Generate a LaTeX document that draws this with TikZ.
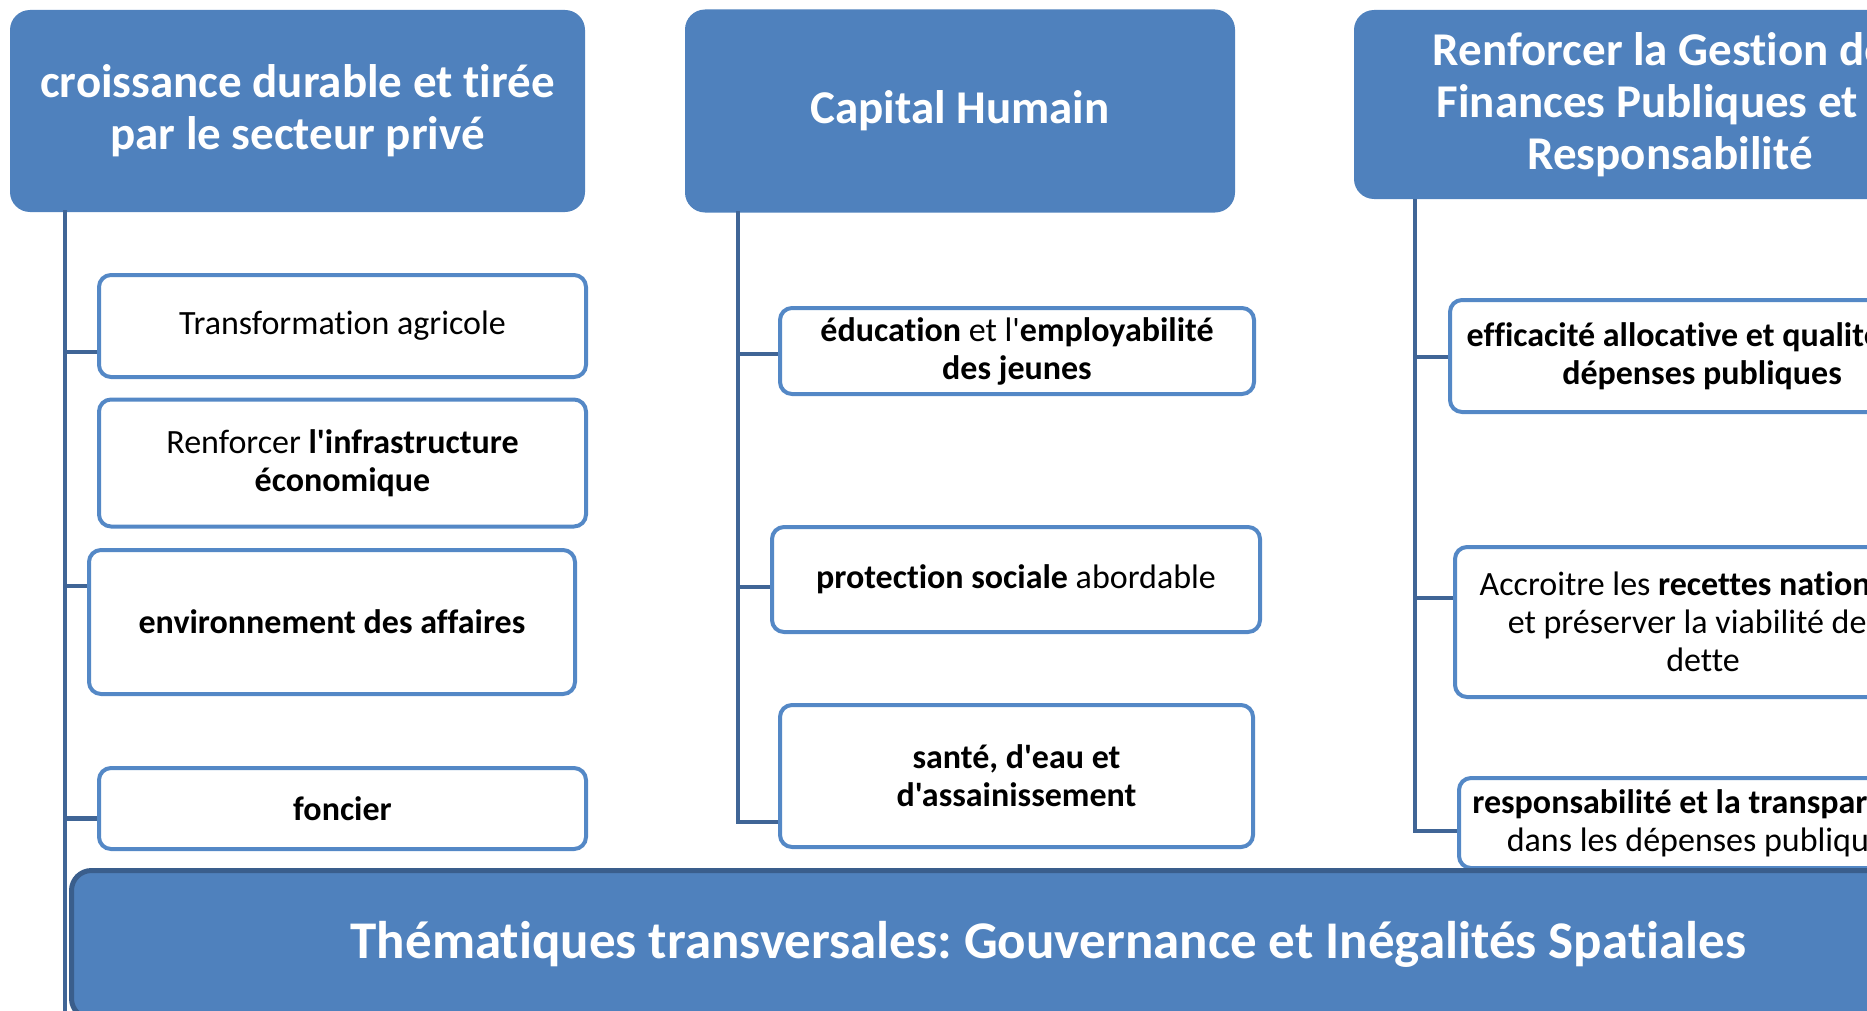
\documentclass[tikz,border=0pt]{standalone}
\usepackage{fontspec}
\setmainfont{Carlito}
\newfontfamily\cali{Carlito}[Ligatures=CommonOff]
\frenchspacing
\definecolor{axeblue}{RGB}{79,129,189}
\definecolor{subblue}{RGB}{84,136,198}
\definecolor{trunkblue}{RGB}{64,101,150}
\definecolor{edgeblue}{RGB}{58,94,140}
\tikzset{
  axe/.style={fill=axeblue,rounded corners=10pt,text=white,align=center,inner sep=0pt,
    font=\cali\bfseries\fontsize{23.5}{26}\selectfont},
  sub/.style={draw=subblue,line width=2pt,fill=white,rounded corners=6pt,align=center,inner sep=0pt,
    font=\cali\fontsize{17}{19}\selectfont},
  band/.style={draw=edgeblue,line width=2.5pt,fill=axeblue,rounded corners=10pt,text=white,inner sep=0pt,
    font=\cali\bfseries\fontsize{26.5}{30}\selectfont},
  branch/.style={draw=trunkblue,line width=2.25pt},
}
\begin{document}
\begin{tikzpicture}[x=0.5pt,y=-0.5pt]
\useasboundingbox (0,0) rectangle (1867,1011);
\clip (0,0) rectangle (1867,1011);
% the three axes
\node [axe,minimum width=287.5pt,minimum height=101pt] (croissance) at (297.5,111)
    {croissance durable et tirée\\par le secteur privé};
\node [axe,minimum width=275pt,minimum height=101.5pt] (capital) at (960,111)
    {Capital Humain};
\node [axe,minimum width=316pt,minimum height=94.5pt] (finances) at (1670,104.5)
    {Renforcer la Gestion des\\Finances Publiques et la\\Responsabilité};
% first column
\node [sub,minimum width=243.5pt,minimum height=51pt] (agri) at (342.5,326)
    {Transformation agricole};
\node [sub,minimum width=243.5pt,minimum height=63.5pt] (infra) at (342.5,463)
    {Renforcer {\bfseries l'infrastructure}\\{\bfseries économique}};
\node [sub,minimum width=243pt,minimum height=72pt] (affaires) at (332,622)
    {\bfseries environnement des affaires};
\node [sub,minimum width=243.5pt,minimum height=40.5pt] (foncier) at (342.5,808.5)
    {\bfseries foncier};
% second column
\node [sub,minimum width=237pt,minimum height=43pt] (educ) at (1017,351)
    {{\bfseries éducation} et l'{\bfseries employabilité}\\{\bfseries des jeunes}};
\node [sub,minimum width=244pt,minimum height=52.5pt] (protec) at (1016,579.5)
    {{\bfseries protection sociale} abordable};
\node [sub,minimum width=236.5pt,minimum height=71pt] (sante) at (1016.5,776)
    {\bfseries santé, d'eau et\\\bfseries d'assainissement};
% third column
\node [sub,minimum width=252pt,minimum height=56pt] (alloc) at (1702,356)
    {\bfseries efficacité allocative et qualité des\\\bfseries dépenses publiques};
\node [sub,minimum width=248pt,minimum height=75pt] (recettes) at (1703,622)
    {Accroitre les {\bfseries recettes nationales}\\et préserver la viabilité de la\\dette};
\node [sub,minimum width=244pt,minimum height=45pt] (transp) at (1703,823)
    {{\bfseries responsabilité et la transparence}\\dans les dépenses publiques};
% trunks and branches
\coordinate (k1) at (65,210);
\coordinate (k1end) at (65,1011);
\coordinate (k2) at (738,211);
\coordinate (k3) at (1415,199);
\draw [branch] (k1) -- (k1end);
\foreach \n/\s in {agri/-13pt,affaires/18pt,foncier/-5pt}
    \draw [branch] (k1) |- ([yshift=\s]\n.west);
\foreach \n/\s in {educ/-1.5pt,protec/-3.75pt,sante/-23pt}
    \draw [branch] (k2) |- ([yshift=\s]\n.west);
\foreach \n/\s in {alloc/-0.5pt,recettes/12pt,transp/-4pt}
    \draw [branch] (k3) |- ([yshift=\s]\n.west);
% cross-cutting band
\node [band,anchor=north west,minimum width=977pt,minimum height=74pt] (transv) at (69,868)
    {Thématiques transversales: Gouvernance et Inégalités Spatiales};
\end{tikzpicture}
\end{document}
